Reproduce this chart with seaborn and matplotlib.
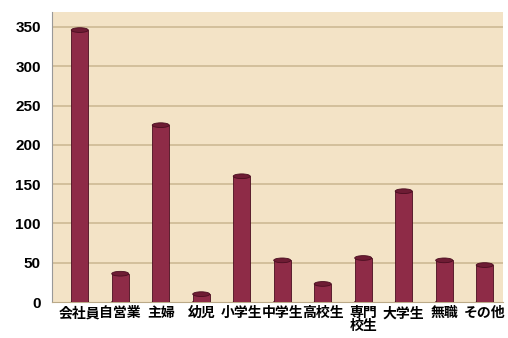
import matplotlib
matplotlib.use("Agg")
import matplotlib.pyplot as plt
import seaborn as sns
import pandas as pd
from matplotlib.patches import Ellipse

categories = ["会社員", "自営業", "主婦", "幼児", "小学生", "中学生", "高校生", "専門\n校生", "大学生", "無職", "その他"]
counts = [346, 36, 225, 10, 160, 53, 23, 56, 141, 53, 47]
yticks = [0, 50, 100, 150, 200, 250, 300, 350]

df = pd.DataFrame({"cat": categories, "n": counts})

sns.set_theme(style="white")
plt.rcParams["font.family"] = ["Noto Sans CJK JP", "DejaVu Sans"]

fig = plt.figure(figsize=(5.08, 3.38), dpi=100)
ax = fig.add_axes([0.102, 0.1065, 0.888, 0.858])
ax.set_facecolor("#F3E3C6")

sns.barplot(data=df, x="cat", y="n", color="#8E2B47", width=0.42,
            edgecolor="#4A0E20", linewidth=0.6, saturation=1, ax=ax, zorder=3)

# cylinder caps derived from bar geometry
for p in ax.patches:
    x0, w, h = p.get_x(), p.get_width(), p.get_height()
    ax.add_patch(Ellipse((x0 + w / 2, h), w, 6.0, facecolor="#6E1C34",
                         edgecolor="#4A0E20", linewidth=0.6, zorder=4))
    ax.add_patch(Ellipse((x0 + w / 2, 0), w, 6.0, facecolor="#8E2B47",
                         edgecolor="#4A0E20", linewidth=0.6, zorder=2.9))

ax.set_xlim(-0.69, 10.45)
ax.set_ylim(0, 369)
ax.set_yticks(yticks)
ax.set_yticklabels([str(v) for v in yticks], fontsize=11, fontweight="bold",
                   family=["Liberation Sans", "DejaVu Sans"], color="black")
ax.tick_params(axis="y", length=3, color="#888888", pad=5)
ax.tick_params(axis="x", length=0, pad=3)
for lbl in ax.get_xticklabels():
    lbl.set_fontsize(10)
    lbl.set_fontweight("bold")
    lbl.set_color("black")
    lbl.set_linespacing(0.85)
ax.set_xlabel("")
ax.set_ylabel("")
for v in yticks[1:]:
    ax.axhline(v, color="#CDB994", linewidth=1.2, zorder=1)

for s in ["top", "right"]:
    ax.spines[s].set_visible(False)
ax.spines["left"].set_color("#999999")
ax.spines["left"].set_linewidth(0.8)
ax.spines["bottom"].set_color("#BBAA88")
ax.spines["bottom"].set_linewidth(0.8)

fig.savefig("out.png", dpi=100, facecolor="white")
